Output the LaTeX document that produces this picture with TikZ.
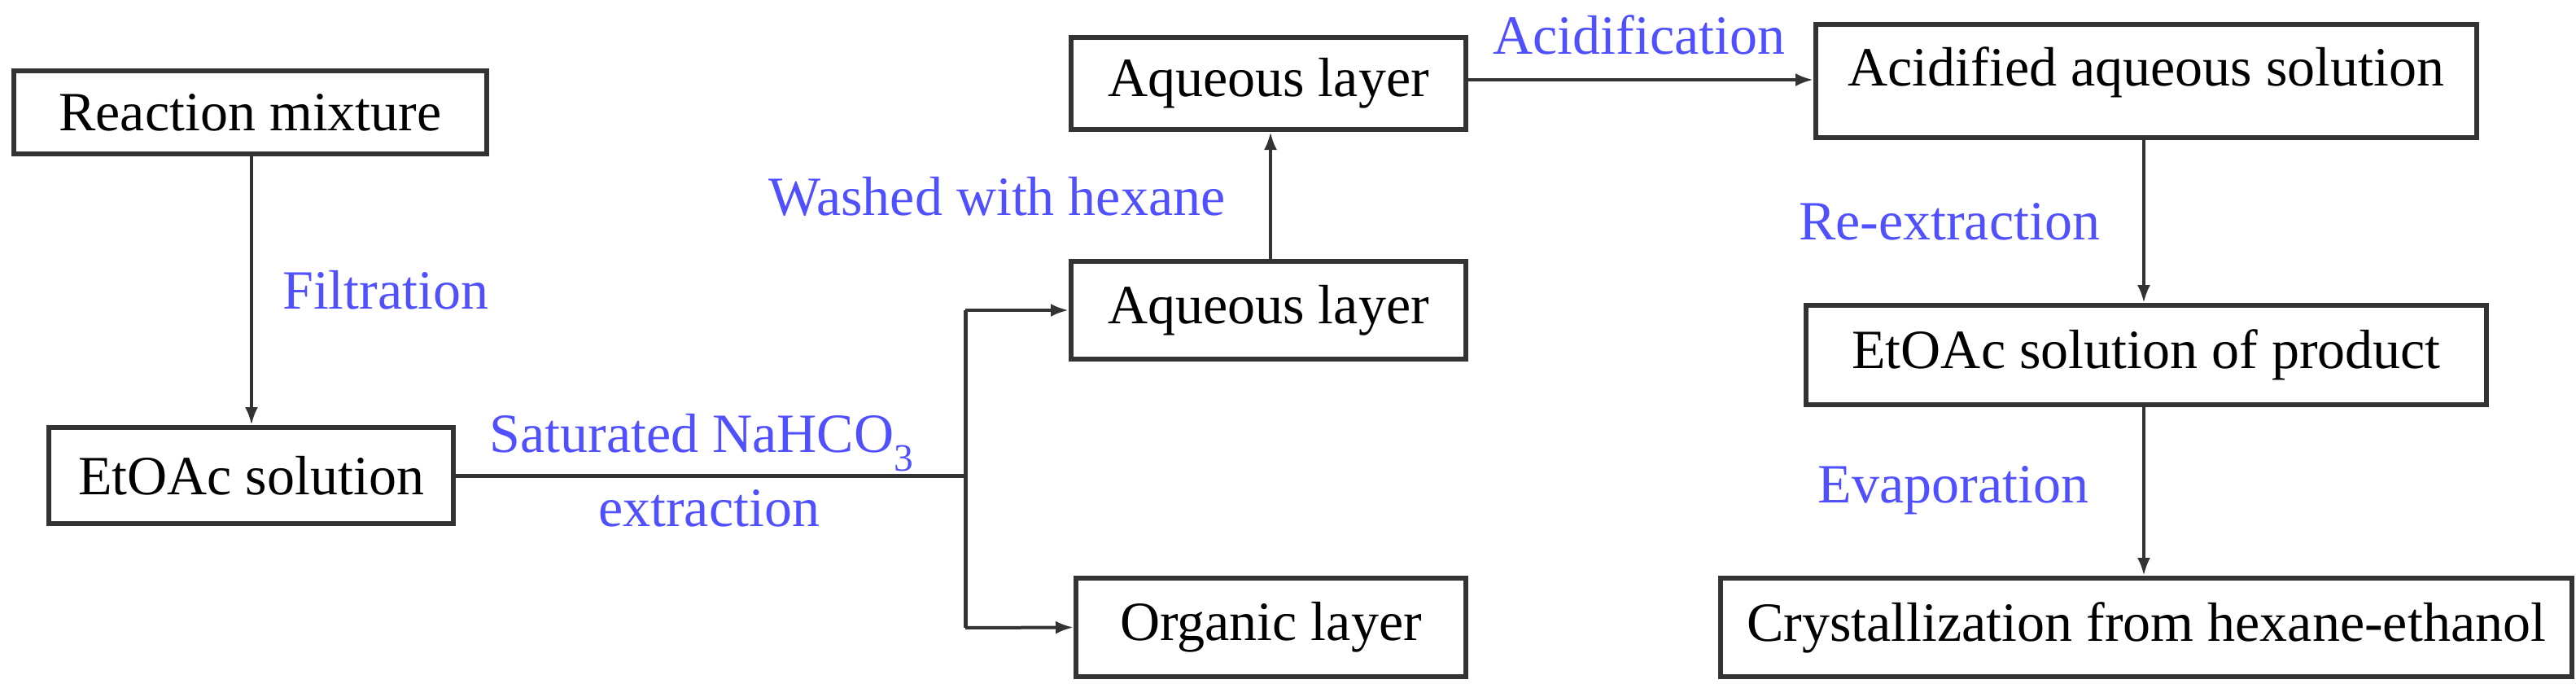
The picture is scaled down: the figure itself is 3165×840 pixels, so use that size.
\documentclass[tikz,border=0pt]{standalone}
\usepackage{fontspec}
\setmainfont{Liberation Serif}
\usetikzlibrary{arrows.meta}
\definecolor{lblue}{RGB}{80,80,255}
\begin{document}
\begin{tikzpicture}[x=1pt,y=-1pt,
  box/.style={draw=black!80,line width=6pt,inner sep=0pt,anchor=center},
  txt/.style={font=\fontsize{68}{80}\selectfont,inner sep=0pt},
  lbl/.style={font=\fontsize{68}{80}\selectfont,text=lblue,inner sep=0pt},
  arr/.style={draw=black!80,line width=4pt,-{Latex[length=22pt,width=16pt]}},
  ln/.style={draw=black!80,line width=5pt}]
\useasboundingbox (0,0) rectangle (3165,840);
\node[box,minimum width=581pt,minimum height=102pt,txt] (rm) at (307.5,138) {Reaction mixture};
\node[box,minimum width=497pt,minimum height=118pt,txt] (et) at (308.5,584) {EtOAc solution};
\node[box,minimum width=485pt,minimum height=113pt,txt] (aq1) at (1558.5,102.5) {Aqueous layer};
\node[box,minimum width=485pt,minimum height=120pt,txt] (aq2) at (1558.5,381) {Aqueous layer};
\node[box,minimum width=479pt,minimum height=121pt,txt] (org) at (1561.5,770.5) {Organic layer};
\node[box,minimum width=812pt,minimum height=139pt] (acb) at (2637,99.5) {};
\node[txt] (act) at (2637,89) {Acidified aqueous solution};
\node[box,minimum width=836pt,minimum height=122pt,txt] (ep) at (2637,436) {EtOAc solution of product};
\node[box,minimum width=1046pt,minimum height=121pt,txt] (cr) at (2637,770.5) {Crystallization from hexane-ethanol};
\coordinate (br) at (1186,584);
\coordinate (bt) at (1186,381);
\coordinate (bb) at (1186,771);
\draw[arr] (rm.south -| 309,0) -- (et.north -| 309,0);
\draw[ln] (et.east) -- (br);
\draw[ln] (bt) -- (bb);
\draw[arr] (bt) -- (aq2.west);
\draw[arr] (bb) -- (org.west);
\draw[arr] (aq2.north -| 1561,0) -- (aq1.south -| 1561,0);
\draw[arr] (aq1.east |- 0,98) -- (acb.west |- 0,98);
\draw[arr] (acb.south -| 2634,0) -- (ep.north -| 2634,0);
\draw[arr] (ep.south -| 2634,0) -- (cr.north -| 2634,0);
\node[lbl,anchor=west] (l1) at (347,356) {Filtration};
\node[lbl] (l2) at (862,544) {Saturated NaHCO\textsubscript{3}};
\node[lbl] (l3) at (871,624) {extraction};
\node[lbl] (l4) at (1225,241) {Washed with hexane};
\node[lbl] (l5) at (2014,43) {Acidification};
\node[lbl] (l6) at (2395,272) {Re-extraction};
\node[lbl] (l7) at (2400,602) {Evaporation};
\end{tikzpicture}
\end{document}
